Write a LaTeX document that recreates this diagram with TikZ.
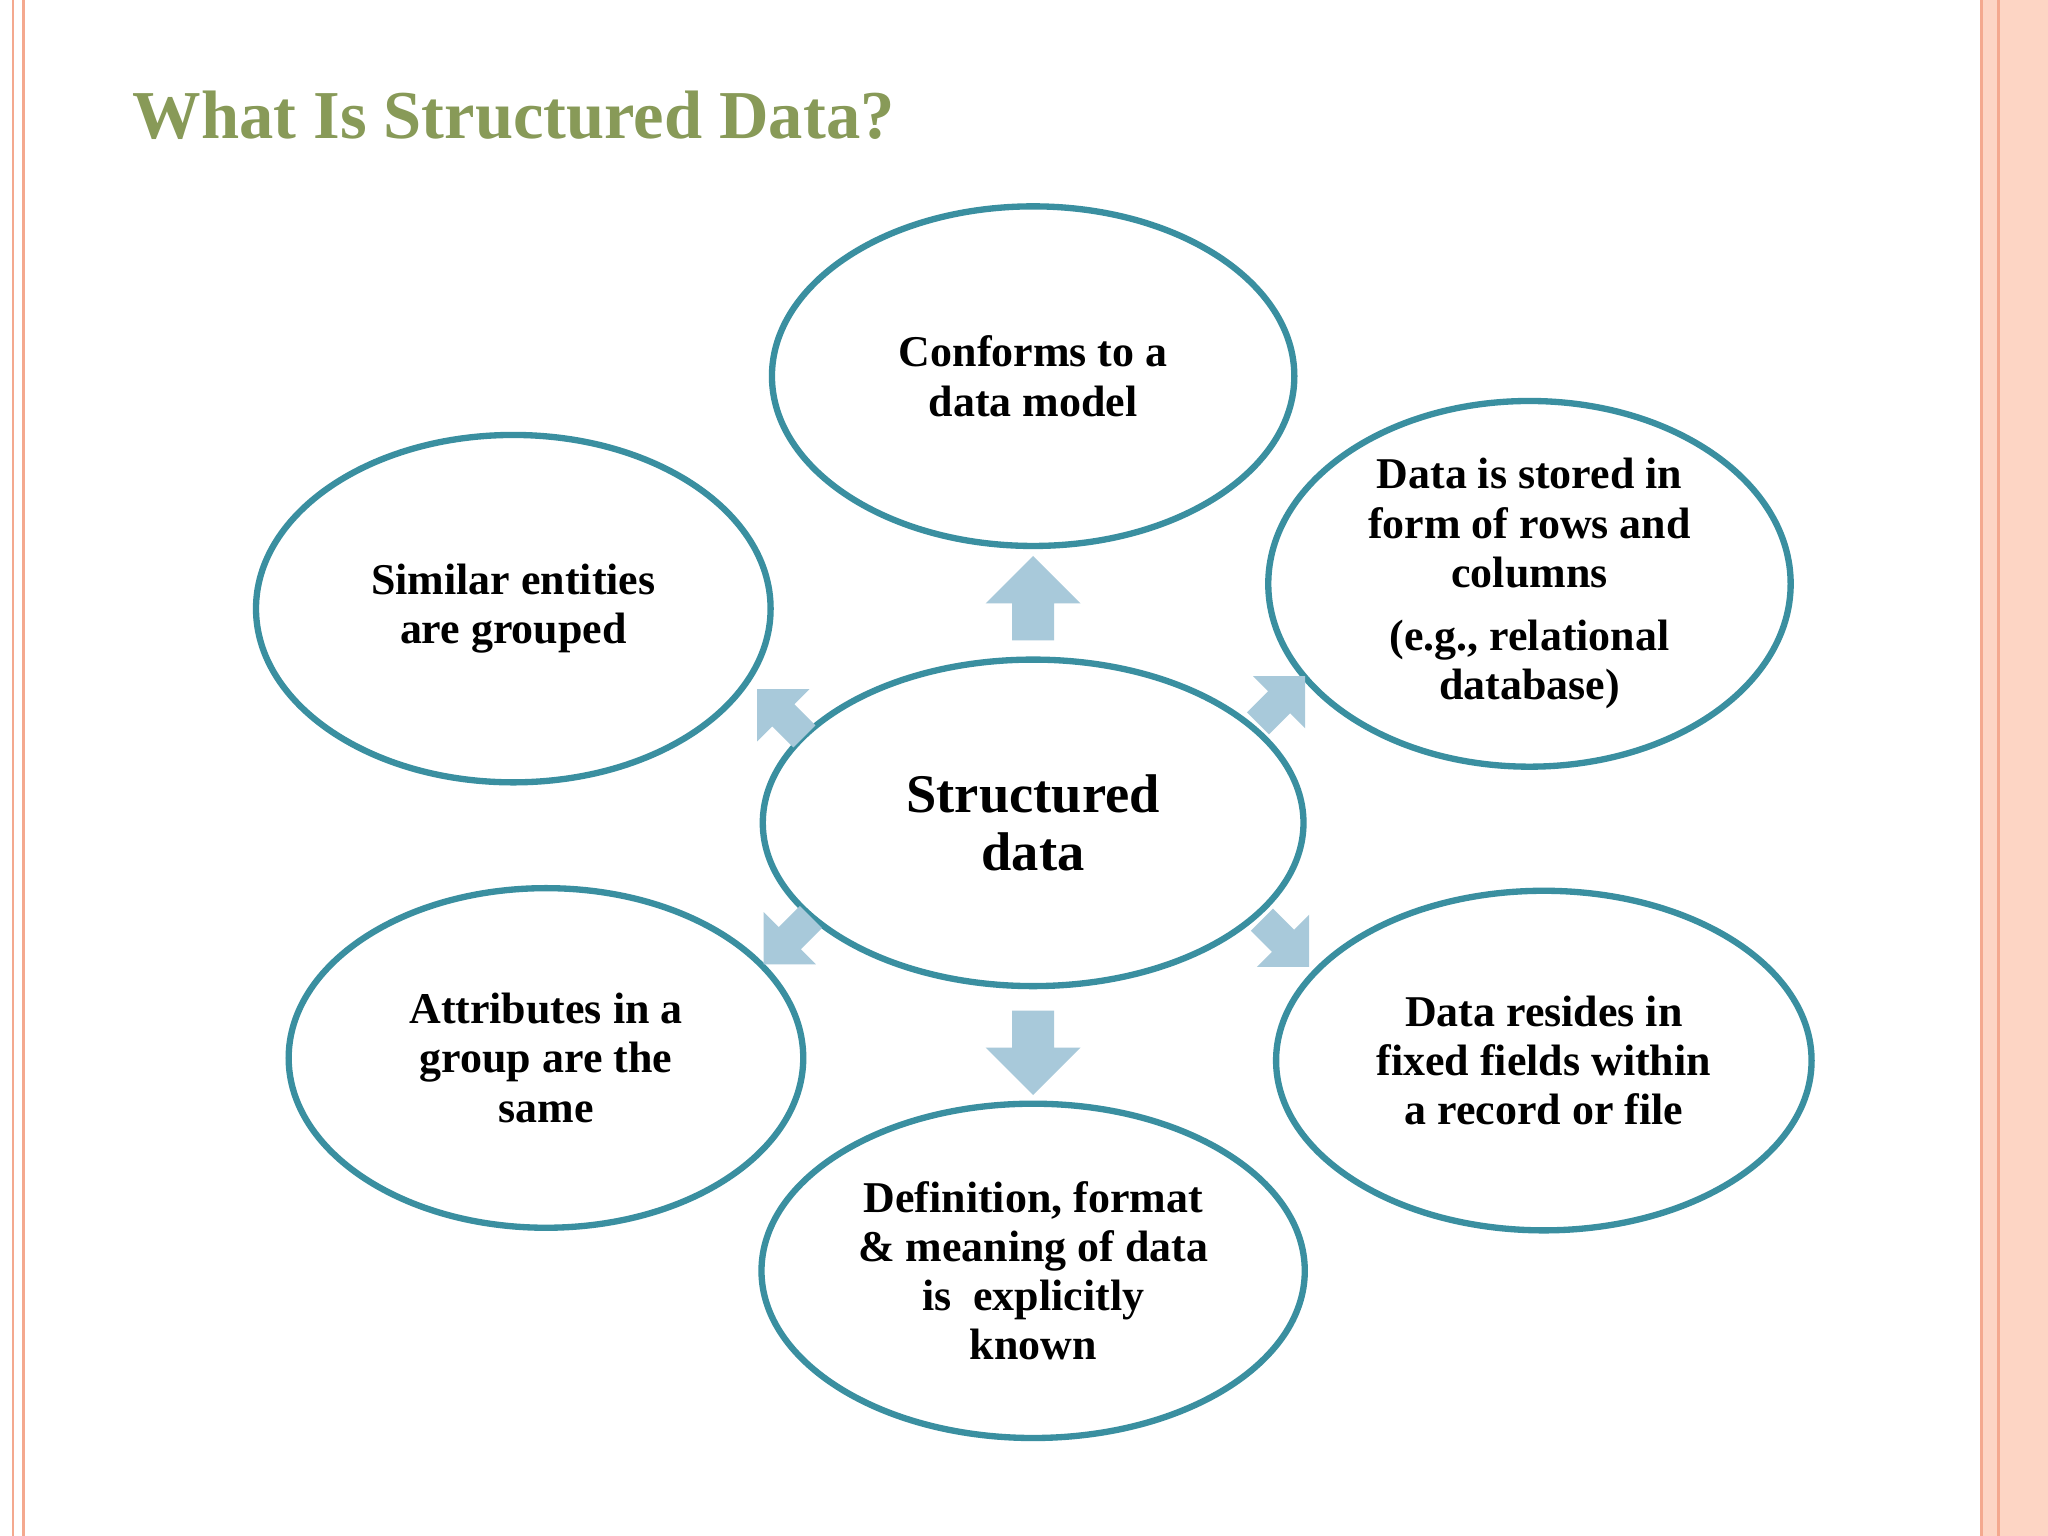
\documentclass[tikz,border=0pt]{standalone}
\usepackage{fontspec}
\setmainfont{Liberation Serif}
\usetikzlibrary{shapes.geometric,shapes.arrows}
\definecolor{teal1}{HTML}{3A8FA0}
\definecolor{arrc}{HTML}{A8C9DA}
\definecolor{salmon}{HTML}{F4A98F}
\definecolor{peach}{HTML}{FDD5C4}
\definecolor{olive}{HTML}{889A58}
\begin{document}
\begin{tikzpicture}[x=0.01306cm,y=-0.01306cm,
  ell/.style={ellipse,draw=teal1,line width=1.8pt,align=center,font=\bfseries\fontsize{12.5}{14}\selectfont,inner sep=0pt},
  barrow/.style={single arrow,fill=arrc,draw=none,minimum height=24pt,minimum width=27pt,single arrow head extend=4pt,inner sep=3pt},
  darrow/.style={single arrow,fill=arrc,draw=none,minimum height=19pt,minimum width=21pt,single arrow head extend=3pt,inner sep=2pt}]
\useasboundingbox (0,0) rectangle (1568,1176);
\fill[white] (0,0) rectangle (1568,1176);
\draw[salmon,line width=0.8pt] (10,0)--(10,1176) (18,0)--(18,1176);
\fill[peach] (1517,0) rectangle (1568,1176);
\draw[salmon,line width=0.8pt] (1517,0)--(1517,1176) (1530,0)--(1530,1176);
\node[anchor=west,text=olive,font=\bfseries\fontsize{19.5}{22}\selectfont] (title) at (92,88) {What Is Structured Data?};
\node[ell,minimum width=5.224cm,minimum height=3.396cm] (top) at (791,288) {Conforms to a\\data model};
\node[ell,minimum width=5.224cm,minimum height=3.657cm] (tr) at (1171,447) {Data is stored in\\form of rows and\\columns\\[4pt](e.g., relational\\database)};
\node[ell,minimum width=5.146cm,minimum height=3.474cm] (tl) at (393,466) {Similar entities\\are grouped};
\node[ell,minimum width=5.407cm,minimum height=3.265cm,font=\bfseries\fontsize{15.5}{16.5}\selectfont] (c) at (791,630) {Structured\\data};
\node[ell,minimum width=5.146cm,minimum height=3.396cm] (bl) at (418,810) {Attributes in a\\group are the\\same};
\node[ell,minimum width=5.355cm,minimum height=3.396cm] (br) at (1182,812) {Data resides in\\fixed fields within\\a record or file};
\node[ell,minimum width=5.433cm,minimum height=3.343cm] (b) at (791,973) {Definition, format\\\& meaning of data\\is\ \ explicitly\\known};
\node[barrow,rotate=90] (a1) at (791,466) {};
\node[barrow,rotate=-90] (a2) at (791,798) {};
\node[darrow,rotate=135] (a3) at (602,550) {};
\node[darrow,rotate=45] (a4) at (977,540) {};
\node[darrow,rotate=-135] (a5) at (607,716) {};
\node[darrow,rotate=-45] (a6) at (980,718) {};
\end{tikzpicture}
\end{document}
